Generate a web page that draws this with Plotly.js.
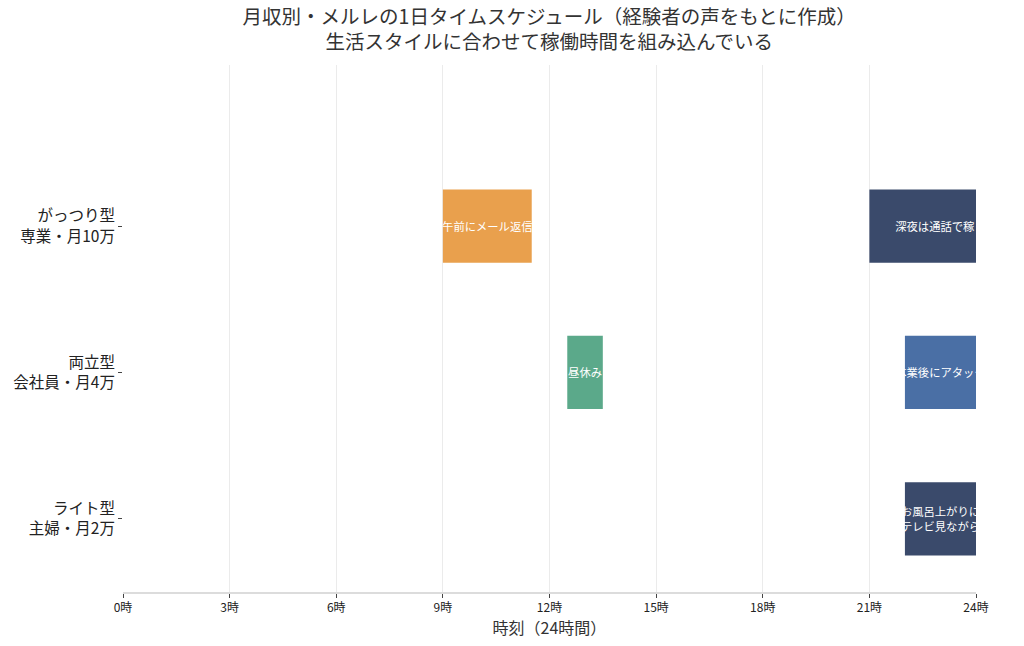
<!DOCTYPE html>
<html>
<head>
<meta charset="utf-8">
<script src="https://cdn.plot.ly/plotly-3.0.1.min.js"></script>
<style>html,body{margin:0;padding:0;background:#fff;}#chart{width:1024px;height:646px;}</style>
</head>
<body>
<div id="chart"></div>
<script>
// Data
const rowLabels = ["ライト型<br>主婦・月2万", "両立型<br>会社員・月4万", "がっつり型<br>専業・月10万"];
const segRows   = ["がっつり型<br>専業・月10万", "がっつり型<br>専業・月10万", "両立型<br>会社員・月4万", "両立型<br>会社員・月4万", "ライト型<br>主婦・月2万"];
const segStart  = [9, 21, 12.5, 22, 22];
const segEnd    = [11.5, 25, 13.5, 24, 24];
const segText   = ["午前にメール返信", "深夜は通話で稼ぐ", "昼休み", "本業後にアタック", "お風呂上がりに<br>テレビ見ながら"];
const xTicks    = [0, 3, 6, 9, 12, 15, 18, 21, 24];
const xTickText = ["0時", "3時", "6時", "9時", "12時", "15時", "18時", "21時", "24時"];
const segColors = ["#E9A04D", "#3A4A6B", "#5BA98A", "#4A6FA5", "#3A4A6B"];

const font = '"Noto Sans CJK JP", "Noto Sans", sans-serif';
const traces = segStart.map((s, i) => ({
  type: 'bar',
  orientation: 'h',
  y: [segRows[i]],
  x: [segEnd[i] - s],
  base: [s],
  width: 0.5,
  text: [segText[i]],
  textposition: 'inside',
  insidetextanchor: 'middle',
  constraintext: 'none',
  textangle: 0,
  cliponaxis: true,
  textfont: {family: font, size: 11.3, color: '#ffffff'},
  marker: {color: segColors[i], line: {width: 0}},
  showlegend: false,
  hoverinfo: 'skip'
}));

const layout = {
  width: 1024, height: 646,
  margin: {l: 123, r: 48, t: 65, b: 54},
  paper_bgcolor: '#ffffff', plot_bgcolor: '#ffffff',
  font: {family: font, color: '#222'},
  title: {
    text: '月収別・メルレの1日タイムスケジュール（経験者の声をもとに作成）<br>生活スタイルに合わせて稼働時間を組み込んでいる',
    x: 0.5363, xanchor: 'center', y: 0.963, yanchor: 'middle',
    font: {family: font, size: 19.5, color: '#333'}
  },
  barmode: 'overlay',
  xaxis: {
    range: [0, 24], tickvals: xTicks, ticktext: xTickText,
    showgrid: true, gridcolor: '#ebebeb', gridwidth: 1,
    zeroline: false, showline: true, linecolor: '#dcdcdc', linewidth: 2,
    ticks: 'outside', ticklen: 4, tickcolor: '#444',
    tickfont: {family: font, size: 12, color: '#222'},
    title: {text: '時刻（24時間）', font: {family: font, size: 16, color: '#333'}, standoff: 2}
  },
  yaxis: {
    type: 'category', categoryorder: 'array', categoryarray: rowLabels,
    range: [-0.5, 3.1],
    showgrid: false, zeroline: false, showline: false,
    ticks: 'outside', ticklen: 4, tickcolor: '#444',
    tickfont: {family: font, size: 15.5, color: '#222'}
  }
};

Plotly.newPlot('chart', traces, layout, {displayModeBar: false, staticPlot: true});
</script>
</body>
</html>
